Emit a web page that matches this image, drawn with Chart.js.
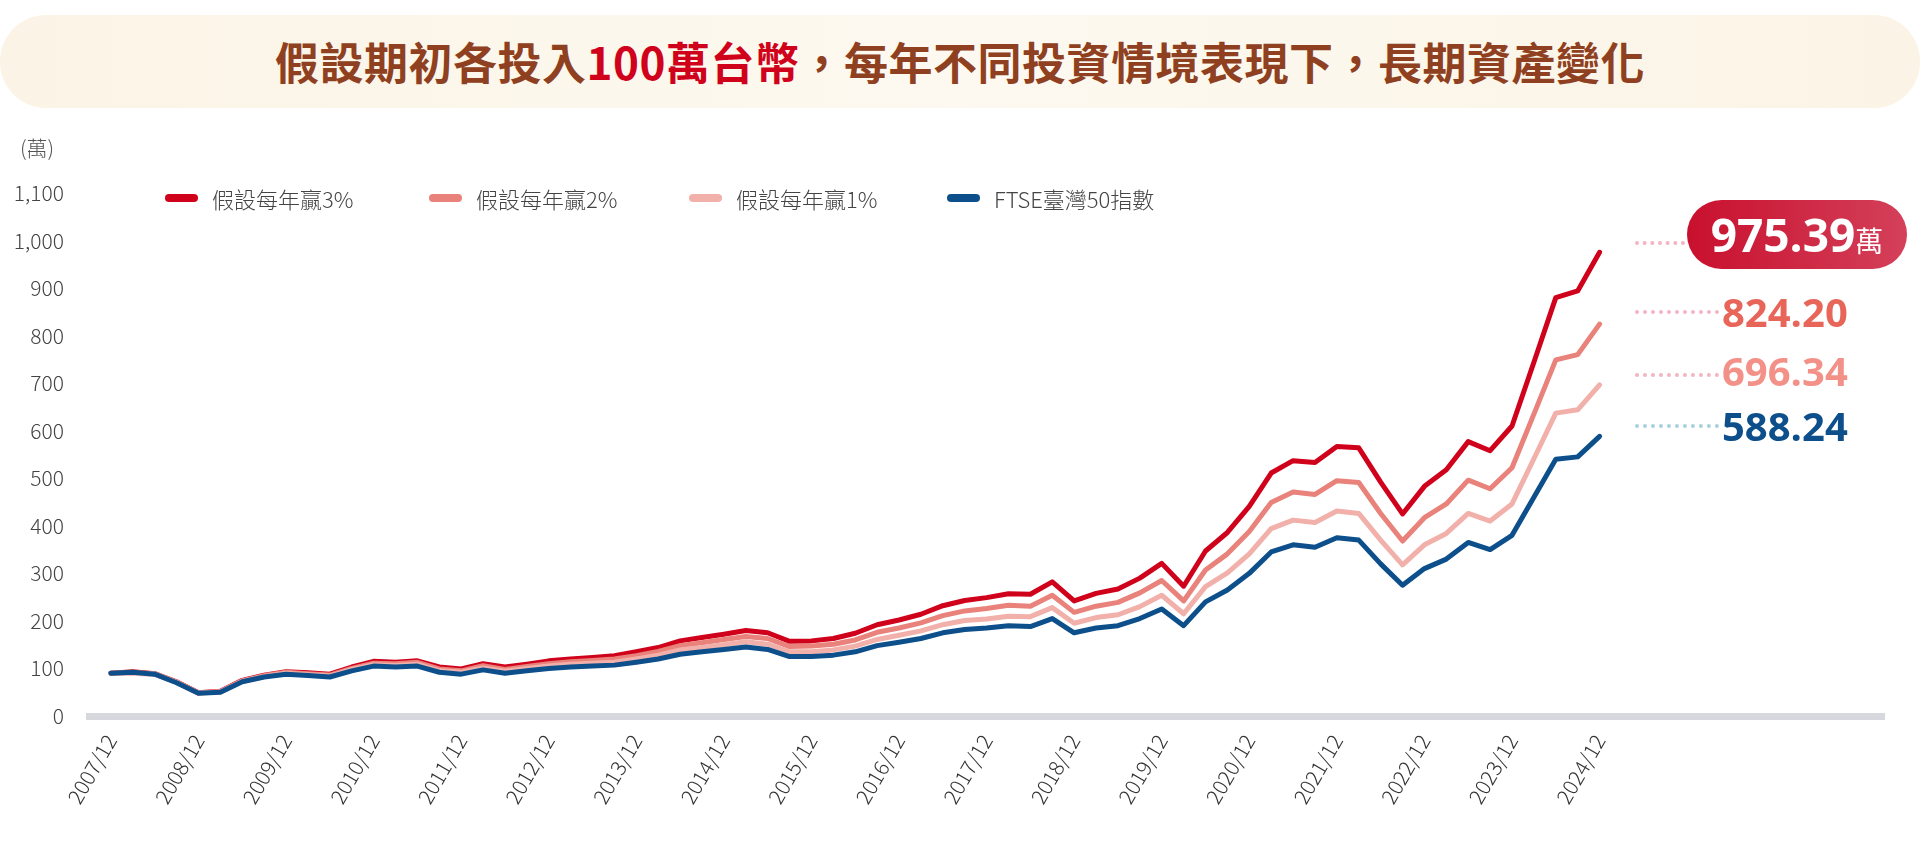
<!DOCTYPE html>
<html><head><meta charset="utf-8">
<script src="https://cdn.jsdelivr.net/npm/chart.js@4/dist/chart.umd.min.js"></script>
<style>
html,body{margin:0;padding:0;background:#fff;width:1920px;height:846px;overflow:hidden;font-family:"Noto Sans CJK TC","Noto Sans",sans-serif}
#banner{position:absolute;left:0;top:15px;width:1920px;height:93px;border-radius:46px;background:linear-gradient(90deg,#fbf4e6,#fdf9f0 50%,#fbf4e6);text-align:center;line-height:93px;font-size:44px;font-weight:bold;color:#8f4020;letter-spacing:0.5px}
#banner .r{color:#d0021b}
#wrap{position:absolute;left:0;top:0;width:1920px;height:846px}
.unit{position:absolute;left:20px;top:132px;font-size:21px;color:#555;font-weight:300}
.leg{position:absolute;top:182px;font-size:22px;color:#444;display:flex;align-items:center;font-weight:300}
.leg i{display:inline-block;width:33px;height:8px;border-radius:4px;margin-right:14px}
.dots{position:absolute;height:0;border-top:4px dotted #f4b4c4}
.val{position:absolute;font-weight:bold;font-size:40px;line-height:1;font-family:"Open Sans","Noto Sans",sans-serif}
#pill{position:absolute;left:1687px;top:200px;width:220px;height:69px;border-radius:35px;background:linear-gradient(90deg,#c8102e,#d4405a);color:#fff;text-align:center;line-height:69px;font-weight:bold;font-size:46px;font-family:"Open Sans","Noto Sans",sans-serif}
#pill span{font-size:28px;font-family:"Noto Sans CJK TC";font-weight:normal}
</style></head><body>
<div id="banner">假設期初各投入<span class="r">100萬台幣</span>，每年不同投資情境表現下，長期資產變化</div>
<div id="wrap"><canvas id="c" width="1920" height="846"></canvas></div>
<div class="unit">(萬)</div>
<div class="leg" style="left:165px"><i style="background:#d0021b"></i>假設每年贏3%</div>
<div class="leg" style="left:429px"><i style="background:#e8827a"></i>假設每年贏2%</div>
<div class="leg" style="left:689px"><i style="background:#f2b0aa"></i>假設每年贏1%</div>
<div class="leg" style="left:947px"><i style="background:#0d4f8b"></i>FTSE臺灣50指數</div>
<div class="dots" style="left:1635px;top:241px;width:50px"></div>
<div class="dots" style="left:1635px;top:310px;width:84px"></div>
<div class="dots" style="left:1635px;top:373px;width:84px"></div>
<div class="dots" style="left:1635px;top:424px;width:84px;border-top-color:#a9d0de"></div>
<div id="pill">975.39<span>萬</span></div>
<div class="val" style="left:1722px;top:292px;color:#e8655a">824.20</div>
<div class="val" style="left:1722px;top:351px;color:#f39189">696.34</div>
<div class="val" style="left:1722px;top:406px;color:#0d4f8b">588.24</div>
<script>
const years=[2008,2009,2010,2011,2012,2013,2014,2015,2016,2017,2018,2019,2020,2021,2022,2023,2024];
const dates=['2007/12'];
years.forEach(y=>['03','06','09','12'].forEach(m=>dates.push(y+'/'+m)));
const ftse=[90,
92,88,70,48, 50,72,82,88, 85,82,95,105, 103,105,92,88, 97,90,95,100,
103,105,107,113, 120,130,135,140, 145,140,125,125, 128,135,148,155,
163,175,182,185, 190,188,205,175, 185,190,205,225, 190,240,265,300,
345,360,355,375, 370,320,275,310, 330,365,350,380, 460,540,545,588.24];
const win3=[90,
93,89,72,49, 52,75,86,93, 91,88,103,115, 113,116,103,99, 110,103,109,116,
120,123,127,135, 144,158,165,172, 180,175,157,158, 163,174,192,202,
214,232,243,249, 257,256,282,242, 258,267,290,321, 273,347,386,441,
511,537,533,567, 564,492,425,483, 518,577,558,610, 744,880,894,975.39];
const win2=[90,
92,89,71,49, 51,74,85,92, 89,86,100,111, 110,113,99,95, 106,98,104,110,
114,117,120,127, 136,148,154,161, 167,163,146,147, 151,160,176,185,
196,211,221,226, 233,231,254,218, 231,239,259,285, 242,307,341,388,
449,471,466,495, 491,426,368,417, 446,496,478,522, 635,749,760,824.20];
const win1=[90,
90,88,71,48, 51,73,83,90, 87,84,98,108, 106,109,95,92, 101,94,100,105,
109,111,113,120, 128,139,144,150, 156,151,135,135, 139,147,161,170,
179,192,201,204, 210,209,228,195, 207,213,230,254, 215,272,301,341,
394,412,407,431, 426,370,318,360, 384,426,410,446, 541,637,644,696.34];
const yTicks=[0,100,200,300,400,500,600,700,800,900,1000,1100];

const lead=1, tail=13;
const labels=[''].concat(dates).concat(Array(tail).fill(''));
const pad=a=>[null].concat(a).concat(Array(tail).fill(null));
const ds=(d,c)=>({data:pad(d),borderColor:c,borderWidth:5,pointRadius:0,tension:0,fill:false,borderJoinStyle:'round',borderCapStyle:'round'});
new Chart(document.getElementById('c'),{
 type:'line',
 data:{labels,datasets:[ds(ftse,'#0d4f8b'),ds(win1,'#f2b0aa'),ds(win2,'#e8827a'),ds(win3,'#d0021b')]},
 options:{responsive:false,animation:false,events:[],
  layout:{padding:{top:193,left:0,right:16,bottom:0}},
  plugins:{legend:{display:false},tooltip:{enabled:false}},
  scales:{
   x:{offset:false,grid:{display:false,drawTicks:false},border:{display:true,color:'#d6d8dd',width:7},
      afterFit:s=>{s.height=130},
      ticks:{autoSkip:false,minRotation:60,maxRotation:60,padding:14,color:'#333',font:{size:21,family:'"Noto Sans CJK TC"',weight:300},
        callback:function(v){const l=this.getLabelForValue(v);return l.endsWith('/12')?l:'';}}},
   y:{min:0,max:1100,afterFit:s=>{s.width=89},
      afterBuildTicks:s=>{s.ticks=yTicks.map(v=>({value:v}))},
      grid:{display:false,drawTicks:false},border:{display:false},
      ticks:{padding:25,color:'#444',font:{size:21,family:'"Noto Sans CJK TC"',weight:300}}}
  }}
});
</script></body></html>
